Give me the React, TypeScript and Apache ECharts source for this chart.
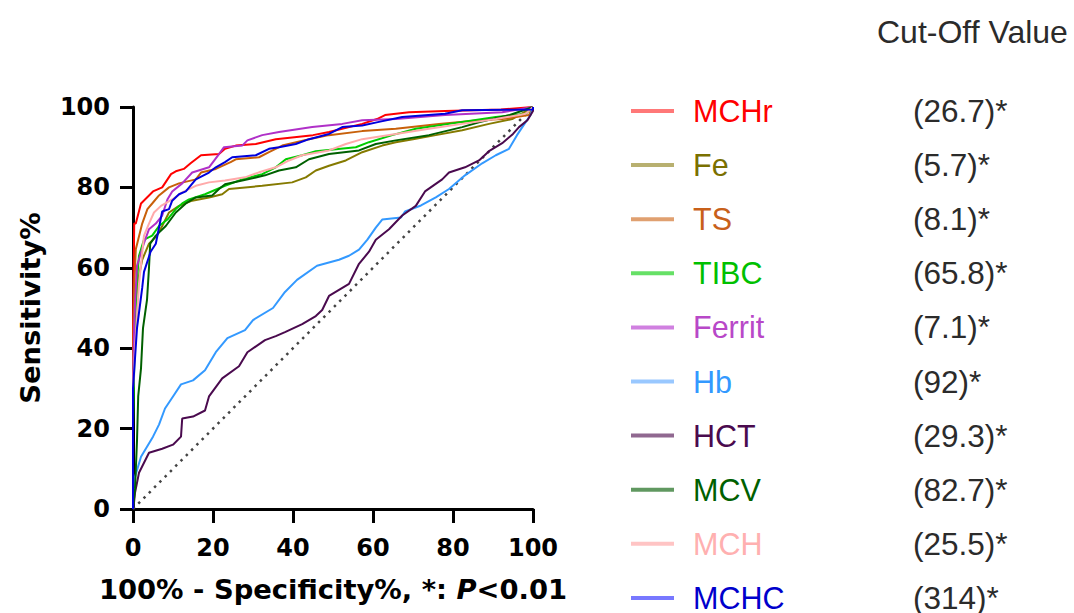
import React, { useEffect, useRef } from "react";
import * as echarts from "echarts";

const seriesNames = ["MCHr", "Fe", "TS", "TIBC", "Ferrit", "Hb", "HCT", "MCV", "MCH", "MCHC"];
const cutOffValues = ["(26.7)*", "(5.7)*", "(8.1)*", "(65.8)*", "(7.1)*", "(92)*", "(29.3)*", "(82.7)*", "(25.5)*", "(314)*"];
const lineColors = ["#ff0000", "#857a00", "#c8600a", "#00cc00", "#b030c8", "#3399ff", "#4a0a4e", "#006000", "#ffaaaa", "#0000dd"];
const legendLineColors = ["#ff7878", "#b8b070", "#e0a070", "#66e066", "#d080e0", "#99c8ff", "#906890", "#609860", "#ffc4c4", "#7878ff"];
const textColors = ["#ff0000", "#7a7000", "#c8601a", "#00c000", "#b848c8", "#3399ff", "#4a0a4e", "#006000", "#ffb0b0", "#0000cc"];
const xTicks = [0, 20, 40, 60, 80, 100];

const mchr = [[0,0],[0,45],[0.3,71],[0.7,71],[2,76],[3.5,77.5],[5,79],[7.3,80],[9.5,83.3],[10.7,84],[12.7,84.6],[14.4,86],[17,88],[21.5,88.3],[23,89.6],[25.7,90.4],[30.7,90.8],[35.7,92],[45,93],[49,93.8],[57.3,95.8],[61,97],[63,98],[69,98.7],[78,99],[92,99.4],[100,100]];
const fe = [[0,0],[0,30],[0.5,50],[1.5,58],[2.3,62],[4,66],[6,68],[7.3,70.4],[9,73.75],[11.5,75.4],[14.8,76.7],[19,77.5],[22.3,78.3],[24,79.6],[32.3,80.4],[39.8,81.25],[43.2,82.5],[45.7,84.2],[49,85.4],[53.2,86.7],[57.3,88.75],[62.3,90.4],[65.7,91.25],[70,92],[75.7,93],[82.3,94.2],[89,95.8],[94.8,97],[100,100]];
const ts = [[0,0],[0,35],[0.3,55],[0.7,64.6],[2.3,71],[3.6,74.6],[4.8,76],[6.5,78],[9,80],[11.5,81],[15.7,82],[17,83.7],[20.7,84.6],[24.4,86.3],[25.7,87],[31.5,87.5],[34,88.8],[37.3,90.4],[44,92],[49,93],[57.3,94],[65.7,94.6],[76.5,95.8],[86.5,96.7],[92.3,97],[99,98],[100,100]];
const tibc = [[0,0],[0,20],[0.5,45],[1,57],[1.5,63],[2.75,67],[4.8,68],[6.5,70.4],[8.6,72],[10.7,74.6],[12.3,76],[14,77],[18,78.3],[23,80.4],[27.3,82],[32.3,83.3],[35.7,85],[38.2,87],[42.3,88],[45.7,89],[55.7,90],[59,91.25],[64.8,93],[70.7,94.6],[82.3,96.3],[90.7,97.5],[98.2,98.3],[100,100]];
const ferrit = [[0,0],[0,30],[0.3,45],[0.5,51],[1,60.5],[2.7,66],[4,69.6],[5.7,71],[7.3,73],[8.6,77],[9.8,79],[12.3,81],[14.8,83.7],[19,85],[21.5,88.3],[22.75,90],[27.3,90.4],[28.6,91.7],[32.3,93],[36.5,93.8],[44.8,95],[52.3,95.8],[57.3,96.7],[65.7,97],[78,98],[92.3,98.7],[100,100]];
const hb = [[0,0],[0.5,8],[2,13],[5,18],[6.5,21],[8,25],[10,28],[12,31],[15,32],[18,34.5],[20.7,39],[23.6,42.5],[28,44.5],[30,47],[35,50],[38,54],[41,57],[46,60.5],[51.5,62],[54,63],[56.5,64.5],[58.6,67],[60.7,70],[62.3,72],[67,72.5],[68,74],[72,75.5],[75.7,77.5],[79,79.6],[83,83],[87.3,86],[90.7,88],[94,89.6],[96,93],[98,96],[99.4,98],[100,100]];
const hct = [[0,0],[0.3,2],[0.5,4],[1.5,9],[4,14],[7.3,15],[10,16],[12,18],[12.3,22.5],[15,23],[18,24.5],[19,28],[22.3,32.5],[26.5,35.5],[28.6,39],[33,42],[35.7,43],[38,44],[42.3,46],[45.7,48],[47.3,49.5],[49,53],[51.5,54.5],[54,56],[56.5,61],[59,64],[60.7,67],[64,69.6],[67.3,73],[70.7,75.4],[73,79],[77.3,82],[79,83.7],[83,85],[86.5,86.7],[89,89],[92.3,91],[95,93.3],[96.5,95],[98.6,96.7],[100,99],[100,100]];
const mcv = [[0,0],[0.5,5],[1,17],[1.3,28],[2,35],[2.5,45],[3.5,52],[4,60],[4.3,66],[5.7,68],[8.2,70.4],[10.7,73.75],[13.2,76],[15.7,77.5],[19.8,78],[21.5,79.6],[23,80.8],[27.3,81.7],[33,83],[36.5,84.2],[40.7,85],[44,87],[49,88.3],[56.5,89.2],[60.7,90.8],[65.7,91.7],[74,93],[82.3,95],[86.7,96.25],[94.2,98],[100,100]];
const mch = [[0,0],[0,30],[0.5,40],[1.5,56],[2.75,68],[4,71],[5.25,73.75],[7,75.4],[9.8,77],[12.3,78.75],[15.7,80.4],[19,81.25],[23,81.7],[28,82.5],[31.5,83.75],[35.7,85],[39,86.7],[42.3,88],[49,89.2],[53.2,90.8],[57.3,92],[65.7,93.3],[74,94.6],[82.3,95.8],[90.7,97],[98.2,98.3],[100,100]];
const mchc = [[0,0],[0,30],[1,45],[2.3,55],[2.75,59],[4.4,64],[5.7,66],[7.3,74],[9,74.6],[9.8,76.7],[11.5,78.3],[13.2,79],[15.7,82],[19,83.7],[20.7,85],[23,86.3],[24.8,87.5],[30.7,88],[34,89.6],[36.5,90],[40.7,90.8],[44,92],[49,93.3],[52.3,95],[57.3,95.4],[61.5,96.3],[67.3,97.5],[78,98.3],[82.3,99.2],[100,99.4],[100,100]];
const referenceLine = [[0,0],[100,100]];

const seriesData = [mchr, fe, ts, tibc, ferrit, hb, hct, mcv, mch, mchc];

export default function App() {
  const ref = useRef<HTMLDivElement>(null);
  useEffect(() => {
    if (!ref.current) return;
    const chart = echarts.init(ref.current, null, { renderer: "svg" });
    const rich: any = {
      s: { width: 14, fontSize: 30 },
      v: { color: "#2b2b2b", fontSize: 31.5, fontFamily: "Liberation Sans" },
    };
    seriesNames.forEach((_, i) => {
      rich["n" + i] = { color: textColors[i], fontSize: 30.5, fontFamily: "Liberation Sans", width: 220 };
    });
    const boldFont = "DejaVu Sans";
    const series: any[] = [
      {
        name: "ref",
        type: "line",
        data: referenceLine,
        symbol: "none",
        silent: true,
        lineStyle: { color: "#444", width: 2.5, type: [2.5, 5] },
        z: 1,
      },
      ...seriesNames.map((name, i) => ({
        name,
        type: "line",
        data: seriesData[i],
        symbol: "none",
        showSymbol: false,
        lineStyle: { color: lineColors[i], width: 2 },
        itemStyle: { color: lineColors[i] },
        z: 2 + i,
      })),
    ];
    chart.setOption({
      animation: false,
      backgroundColor: "#ffffff",
      title: {
        text: "Cut-Off Value",
        left: 872,
        top: 11,
        textStyle: { fontFamily: "Liberation Sans", fontSize: 32, fontWeight: "normal", color: "#2b2b2b" },
      },
      grid: { left: 133, right: 541, top: 107, bottom: 104, containLabel: false },
      legend: {
        orient: "vertical",
        left: 626,
        top: 90,
        height: 900,
        icon: "rect",
        itemWidth: 43,
        itemHeight: 4,
        itemGap: 22.1,
        selectedMode: false,
        data: seriesNames.map((name, i) => ({ name, itemStyle: { color: legendLineColors[i] } })),
        formatter: (name: string) => {
          const i = seriesNames.indexOf(name);
          return `{s| }{n${i}|${name}}{v|${cutOffValues[i]}}`;
        },
        textStyle: { rich },
      },
      xAxis: {
        type: "value",
        min: 0,
        max: 100,
        interval: 20,
        name: "{b|100% - Specificity%, *: }{i|P}{b|<0.01}",
        nameLocation: "middle",
        nameGap: 67,
        nameTextStyle: {
          rich: {
            b: { fontFamily: boldFont, fontWeight: "bold", fontSize: 27.4, color: "#000" },
            i: { fontFamily: boldFont, fontWeight: "bold", fontStyle: "italic", fontSize: 27.4, color: "#000" },
          },
        },
        axisLine: { show: true, lineStyle: { color: "#000", width: 3 } },
        axisTick: { show: true, length: 14, lineStyle: { color: "#000", width: 3 } },
        axisLabel: { margin: 27, fontFamily: boldFont, fontWeight: "bold", fontSize: 24, color: "#000", formatter: (v: number) => (xTicks.includes(v) ? String(v) : "") },
        splitLine: { show: false },
      },
      yAxis: {
        type: "value",
        min: 0,
        max: 100,
        interval: 20,
        name: "Sensitivity%",
        nameLocation: "middle",
        nameGap: 89,
        nameRotate: 90,
        nameTextStyle: { fontFamily: boldFont, fontWeight: "bold", fontSize: 27.4, color: "#000" },
        axisLine: { show: true, lineStyle: { color: "#000", width: 3 } },
        axisTick: { show: true, length: 13, lineStyle: { color: "#000", width: 3 } },
        axisLabel: { margin: 23, fontFamily: boldFont, fontWeight: "bold", fontSize: 24, color: "#000" },
        splitLine: { show: false },
      },
      series,
    });
    return () => chart.dispose();
  }, []);
  return <div ref={ref} style={{ position: "fixed", left: 0, top: 0, width: 1074, height: 613 }} />;
}
